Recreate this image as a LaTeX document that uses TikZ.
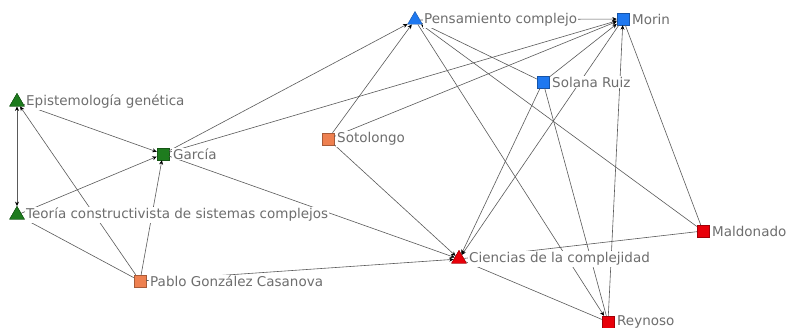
\documentclass[tikz,border=0pt]{standalone}
\usepackage{fontspec}
\setmainfont{DejaVu Sans}
\usetikzlibrary{shapes.geometric,arrows.meta}
\definecolor{ngreen}{HTML}{1E7B1E}
\definecolor{norange}{HTML}{EE8050}
\definecolor{nblue}{HTML}{1E78F0}
\definecolor{nred}{HTML}{E8000A}
\definecolor{edgegray}{HTML}{5A5A5A}
\definecolor{labgray}{HTML}{6E6E6E}
\begin{document}
\begin{tikzpicture}[x=1pt,y=-1pt,
  sq/.style={rectangle,draw=#1!70!black,fill=#1,minimum size=12pt,inner sep=0pt},
  tri/.style={regular polygon,regular polygon sides=3,draw=#1!70!black,fill=#1,minimum size=17pt,inner sep=0pt},
  lab/.style={anchor=west,fill=white,inner sep=1pt,text=labgray,font=\fontsize{13.5}{14}\selectfont},
  tipstyle/.tip={Stealth[length=4.5pt,width=4pt,color=black]},
  edge/.style={draw=edgegray,line width=0.6pt,-tipstyle},
  bothedge/.style={draw=edgegray,line width=0.6pt,tipstyle-tipstyle},
  plain/.style={draw=edgegray,line width=0.6pt}]
\useasboundingbox[fill=white] (0,0) rectangle (787,328);
% nodes
\node[tri=ngreen] (epi) at (17,102) {};
\node[tri=ngreen] (teo) at (17,215) {};
\node[sq=ngreen] (gar) at (163,154) {};
\node[sq=norange] (pab) at (140,281) {};
\node[sq=norange] (sot) at (328,139) {};
\node[tri=nblue] (pen) at (415,20) {};
\node[sq=nblue] (mor) at (623,19) {};
\node[sq=nblue] (sol) at (543,82) {};
\node[tri=nred] (cie) at (459,259) {};
\node[sq=nred] (mal) at (703,231) {};
\node[sq=nred] (rey) at (608,322) {};
% edges
\draw[bothedge] (teo) -- (epi);
\draw[edge] (epi) -- (gar);
\draw[edge] (pab) -- (epi);
\draw[edge] (teo) -- (gar);
\draw[edge] (pab) -- (gar);
\draw[plain] (pab) -- (teo);
\draw[edge] (pab) -- (cie);
\draw[edge] (gar) -- (pen);
\draw[edge] (gar) -- (mor);
\draw[edge] (gar) -- (cie);
\draw[edge] (sot) -- (pen);
\draw[edge] (sot) -- (mor);
\draw[edge] (sot) -- (cie);
\draw[edge] (pen) -- (mor);
\draw[edge] (mal) -- (pen);
\draw[plain] (sol) -- (pen);
\draw[edge] (pen) -- (rey);
\draw[edge] (sol) -- (mor);
\draw[edge] (sol) -- (cie);
\draw[plain] (sol) -- (rey);
\draw[edge] (mor) -- (cie);
\draw[edge] (rey) -- (mor);
\draw[plain] (mal) -- (mor);
\draw[plain] (mal) -- (cie);
\draw[plain] (cie) -- (rey);
% labels
\node[lab] (epiL) at (25,102) {Epistemología genética};
\node[lab] (teoL) at (25,215) {Teoría constructivista de sistemas complejos};
\node[lab] (garL) at (172,154) {García};
\node[lab] (pabL) at (149,281) {Pablo González Casanova};
\node[lab] (sotL) at (336,139) {Sotolongo};
\node[lab] (penL) at (423,20) {Pensamiento complejo};
\node[lab] (morL) at (631,19) {Morin};
\node[lab] (solL) at (551,82) {Solana Ruiz};
\node[lab] (cieL) at (468,259) {Ciencias de la complejidad};
\node[lab] (malL) at (711,231) {Maldonado};
\node[lab] (reyL) at (616,322) {Reynoso};
% redraw markers above labels
\node[tri=ngreen] at (epi) {};
\node[tri=ngreen] at (teo) {};
\node[tri=nred] at (cie) {};
\end{tikzpicture}
\end{document}
